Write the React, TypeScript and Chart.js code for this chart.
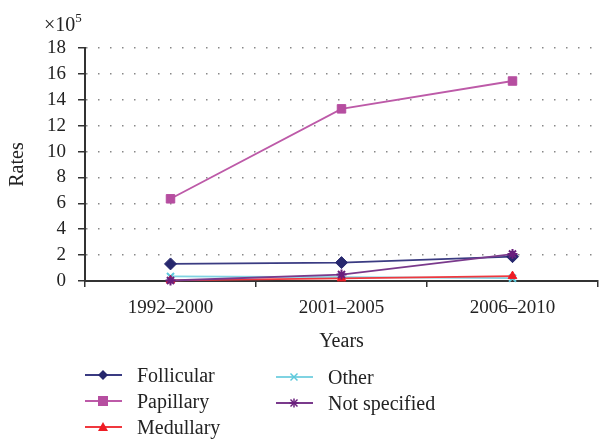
import React, { useEffect, useRef } from "react";
import { Chart, registerables } from "chart.js";

Chart.register(...registerables);

const categories = ["1992–2000", "2001–2005", "2006–2010"];
const follicular = [1.32, 1.42, 1.88];
const papillary = [6.35, 13.3, 15.45];
const medullary = [0.05, 0.2, 0.38];
const other = [0.35, 0.3, 0.22];
const notSpecified = [0.04, 0.5, 2.08];
const yTicks = [0, 2, 4, 6, 8, 10, 12, 14, 16, 18];

const FONT = "'Liberation Serif', 'DejaVu Serif', serif";

const series = [
  { label: "Follicular", data: follicular, color: "#27286e", line: "#3a3b82", point: "rectRot", radius: 6, order: 2 },
  { label: "Papillary", data: papillary, color: "#b64ea0", line: "#bd5aa8", point: "rect", radius: 6, order: 3 },
  { label: "Medullary", data: medullary, color: "#ee1c24", line: "#f0383e", point: "triangle", radius: 5, order: 4 },
  { label: "Other", data: other, color: "#5cc9dc", line: "#7fd3e2", point: "crossRot", radius: 5, order: 5 },
  { label: "Not specified", data: notSpecified, color: "#6a1f7d", line: "#7a3a8c", point: "star", radius: 5, order: 1 },
];

const exponentPlugin = {
  id: "exponent",
  afterDraw(chart: any) {
    const ctx = chart.ctx;
    ctx.save();
    ctx.fillStyle = "#222";
    ctx.textBaseline = "alphabetic";
    ctx.textAlign = "left";
    ctx.font = `20px ${FONT}`;
    ctx.fillText("×10", 44, 31);
    const w = ctx.measureText("×10").width;
    ctx.font = `13px ${FONT}`;
    ctx.fillText("5", 44 + w, 22);
    ctx.restore();
  },
};

function LegendMarker({ s }: { s: any }) {
  const cx = 18, cy = 8;
  let shape: any = null;
  if (s.point === "rectRot") shape = <polygon points={`${cx},${cy - 5} ${cx + 5},${cy} ${cx},${cy + 5} ${cx - 5},${cy}`} fill={s.color} />;
  else if (s.point === "rect") shape = <rect x={cx - 5} y={cy - 5} width={10} height={10} fill={s.color} />;
  else if (s.point === "triangle") shape = <polygon points={`${cx},${cy - 5} ${cx + 5},${cy + 4} ${cx - 5},${cy + 4}`} fill={s.color} />;
  else if (s.point === "crossRot") shape = <g stroke={s.color} strokeWidth={1.5}><line x1={cx - 3.5} y1={cy - 3.5} x2={cx + 3.5} y2={cy + 3.5} /><line x1={cx - 3.5} y1={cy + 3.5} x2={cx + 3.5} y2={cy - 3.5} /></g>;
  else shape = <g stroke={s.color} strokeWidth={1.5}><line x1={cx - 3.5} y1={cy - 3.5} x2={cx + 3.5} y2={cy + 3.5} /><line x1={cx - 3.5} y1={cy + 3.5} x2={cx + 3.5} y2={cy - 3.5} /><line x1={cx} y1={cy - 4.5} x2={cx} y2={cy + 4.5} /><line x1={cx - 4.5} y1={cy} x2={cx + 4.5} y2={cy} /></g>;
  return (
    <svg width={37} height={16} style={{ display: "block" }}>
      <line x1={0} y1={cy} x2={37} y2={cy} stroke={s.line} strokeWidth={2} />
      {shape}
    </svg>
  );
}

export default function App() {
  const ref = useRef<HTMLCanvasElement>(null);
  useEffect(() => {
    document.body.style.margin = "0";
    const chart = new Chart(ref.current!, {
      type: "line",
      data: {
        labels: categories,
        datasets: series.map((s) => ({
          label: s.label,
          data: s.data,
          borderColor: s.line,
          backgroundColor: s.color,
          pointBorderColor: s.color,
          pointBackgroundColor: s.color,
          pointStyle: s.point as any,
          pointRadius: s.radius,
          pointBorderWidth: s.point === "crossRot" || s.point === "star" ? 2 : 1,
          borderWidth: 1.8,
          tension: 0,
          order: s.order,
          clip: false as any,
        })),
      },
      options: {
        animation: false,
        responsive: false,
        maintainAspectRatio: false,
        layout: { padding: { top: 48, right: 0, left: 0, bottom: 85 } },
        plugins: { legend: { display: false }, tooltip: { enabled: false } },
        scales: {
          x: {
            offset: true,
            grid: { offset: true, drawOnChartArea: false, drawTicks: true, tickLength: 6, color: "#333", lineWidth: 1.5 },
            border: { display: true, color: "#333", width: 2 },
            ticks: { color: "#222", font: { family: FONT, size: 19, lineHeight: 1.0 }, padding: 12, maxRotation: 0, autoSkip: false },
            title: { display: true, text: "Years", color: "#222", font: { family: FONT, size: 20 }, padding: { top: 0, bottom: 0 } },
          },
          y: {
            min: 0,
            max: 18,
            afterBuildTicks: (axis: any) => {
              axis.ticks = yTicks.map((v) => ({ value: v }));
            },
            grid: {
              color: "#888",
              lineWidth: 1.5,
              drawTicks: true,
              tickLength: 7,
              tickColor: "#333",
              tickWidth: 1.5,
              tickBorderDash: [],
            } as any,
            border: { display: true, color: "#333", width: 2, dash: [1.5, 10.5] },
            ticks: { color: "#222", font: { family: FONT, size: 19, lineHeight: 1.0 }, padding: 12, autoSkip: false },
            title: { display: true, text: "Rates", color: "#222", font: { family: FONT, size: 20 }, padding: { top: 6, bottom: 5 } },
          },
        },
      },
      plugins: [exponentPlugin],
    });
    return () => chart.destroy();
  }, []);

  const col1 = series.slice(0, 3);
  const col2 = series.slice(3);
  const itemStyle: React.CSSProperties = { display: "flex", alignItems: "center", height: 26, fontFamily: FONT, fontSize: 20, color: "#222" };

  return (
    <div style={{ position: "relative", width: 605, height: 439 }}>
      <canvas ref={ref} width={605} height={439} style={{ position: "absolute", left: 0, top: 0 }} />
      <div style={{ position: "absolute", left: 85, top: 362 }}>
        {col1.map((s) => (
          <div key={s.label} style={itemStyle}>
            <LegendMarker s={s} />
            <span style={{ marginLeft: 15 }}>{s.label}</span>
          </div>
        ))}
      </div>
      <div style={{ position: "absolute", left: 276, top: 364 }}>
        {col2.map((s) => (
          <div key={s.label} style={itemStyle}>
            <LegendMarker s={s} />
            <span style={{ marginLeft: 15 }}>{s.label}</span>
          </div>
        ))}
      </div>
    </div>
  );
}
